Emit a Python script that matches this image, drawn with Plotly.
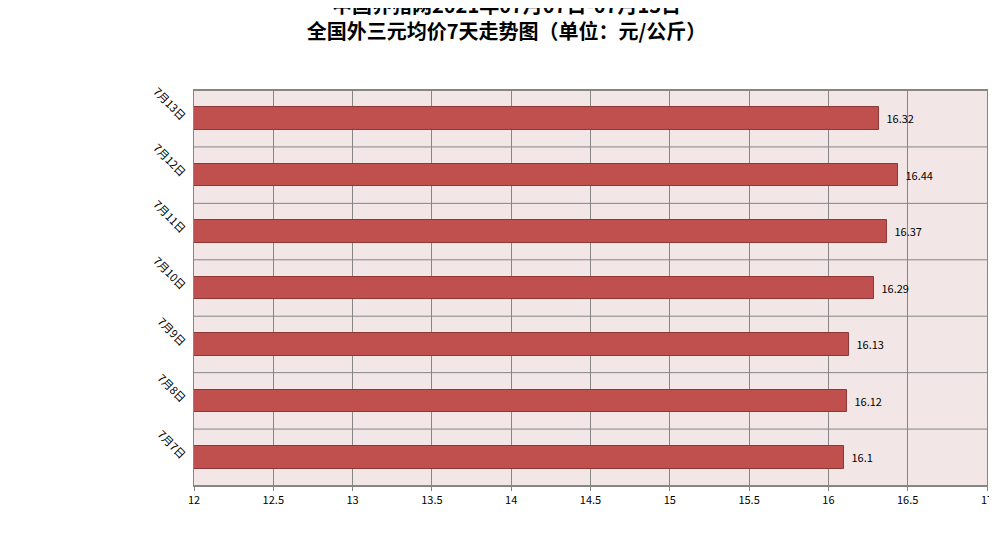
import plotly.graph_objects as go

dates = ["7月7日", "7月8日", "7月9日", "7月10日", "7月11日", "7月12日", "7月13日"]
prices = [16.1, 16.12, 16.13, 16.29, 16.37, 16.44, 16.32]
x_ticks = [12, 12.5, 13, 13.5, 14, 14.5, 15, 15.5, 16, 16.5, 17]

fig = go.Figure()
fig.add_trace(go.Bar(
    x=[p - 12 for p in prices], base=12, y=dates, orientation="h",
    marker=dict(color="#C0504D", line=dict(color="#8C3836", width=1)),
    width=0.4,
    text=["  " + str(p) for p in prices], textposition="outside",
    textfont=dict(size=11, color="black", family="Noto Sans CJK SC"),
    cliponaxis=False,
))
fig.update_layout(
    width=997, height=540,
    margin=dict(l=186, r=18, t=82, b=62),
    paper_bgcolor="white", plot_bgcolor="#F2E6E6",
    title=dict(text="<b>中国养猪网2021年07月07日-07月13日<br>全国外三元均价7天走势图（单位：元/公斤）</b>",
               x=0.5, xanchor="center", xref="container", yref="container", y=0.99, yanchor="top",
               font=dict(size=20, color="black", family="Noto Sans CJK SC")),
    font=dict(family="Noto Sans CJK SC", size=11, color="black"),
    showlegend=False,
    bargap=0,
)
fig.update_xaxes(range=[12, 17], tickvals=x_ticks, ticktext=[str(t) for t in x_ticks],
                 showgrid=True, gridcolor="#868686", gridwidth=1,
                 showline=True, linecolor="#868686", mirror=True, zeroline=False,
                 ticks="outside", ticklen=4, tickcolor="#868686")
fig.update_yaxes(showgrid=False, showline=True, linecolor="#868686", mirror=True,
                 tickangle=45, ticks="", ticklabelstandoff=6)
for i in range(len(dates) + 1):
    fig.add_shape(type="line", xref="paper", yref="y", x0=0, x1=1,
                  y0=i - 0.5, y1=i - 0.5, line=dict(color="#868686", width=1))
fig.write_html("out.html")
